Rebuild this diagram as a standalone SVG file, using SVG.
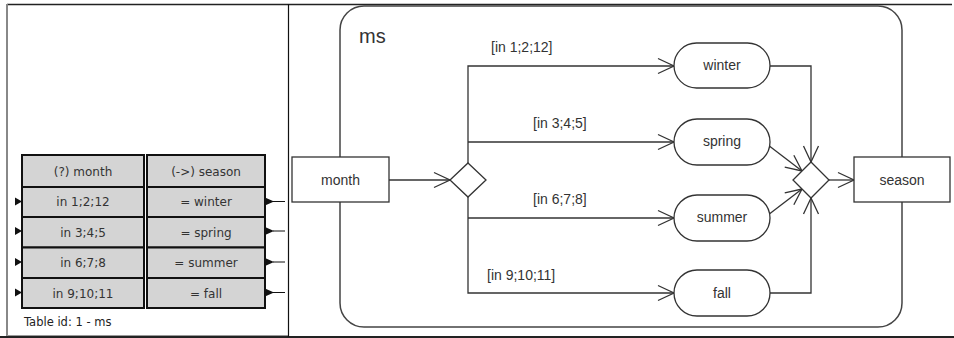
<svg xmlns="http://www.w3.org/2000/svg" width="954" height="338" viewBox="0 0 954 338">
<style>
.cell{fill:#d4d4d4;stroke:#111;stroke-width:2}
.tt{font-family:"DejaVu Sans",sans-serif;font-size:12px;fill:#333;text-anchor:middle}
.tid{font-family:"DejaVu Sans",sans-serif;font-size:11.5px;fill:#222}
.box{fill:#fff;stroke:#333;stroke-width:1.3}
.lbl{font-family:"Liberation Sans",Arial,sans-serif;font-size:14px;fill:#333}
.ctr{text-anchor:middle}
.ln{fill:none;stroke:#333;stroke-width:1.3}
.arr{marker-end:url(#open)}
</style>
<defs>
<marker id="open" markerUnits="userSpaceOnUse" markerWidth="20" markerHeight="20" viewBox="-18 -10 20 20" refX="0" refY="0" orient="auto">
<path d="M-16,-7.5 L0,0 L-16,7.5" fill="none" stroke="#333" stroke-width="1.3"/>
</marker>
</defs>
<rect x="0" y="0" width="954" height="338" fill="#fff"/>
<g id="outer">
<line x1="7" y1="4.5" x2="952" y2="4.5" stroke="#222" stroke-width="1.5"/>
<line x1="7" y1="4" x2="7" y2="336" stroke="#888" stroke-width="2"/>
<line x1="7" y1="335.5" x2="288" y2="335.5" stroke="#999" stroke-width="1"/>
<line x1="0" y1="337" x2="954" y2="337" stroke="#222" stroke-width="2"/>
<line x1="288.5" y1="4" x2="288.5" y2="337" stroke="#111" stroke-width="1.2"/>
</g>
<g id="table">
<rect class="cell" x="22" y="155" width="122" height="32"/>
<rect class="cell" x="147" y="155" width="118" height="32"/>
<rect class="cell" x="22" y="187" width="122" height="30"/>
<rect class="cell" x="147" y="187" width="118" height="30"/>
<rect class="cell" x="22" y="217" width="122" height="30.5"/>
<rect class="cell" x="147" y="217" width="118" height="30.5"/>
<rect class="cell" x="22" y="247.5" width="122" height="30.5"/>
<rect class="cell" x="147" y="247.5" width="118" height="30.5"/>
<rect class="cell" x="22" y="278" width="122" height="30"/>
<rect class="cell" x="147" y="278" width="118" height="30"/>
<text class="tt" x="83" y="175.5">(?) month</text>
<text class="tt" x="206" y="175.5">(-&gt;) season</text>
<text class="tt" x="83" y="206">in 1;2;12</text>
<text class="tt" x="206" y="206">= winter</text>
<text class="tt" x="83" y="236.5">in 3;4;5</text>
<text class="tt" x="206" y="236.5">= spring</text>
<text class="tt" x="83" y="267">in 6;7;8</text>
<text class="tt" x="206" y="267">= summer</text>
<text class="tt" x="83" y="297.5">in 9;10;11</text>
<text class="tt" x="206" y="297.5">= fall</text>
<text class="tid" x="24" y="326">Table id: 1 - ms</text>
<g fill="#111">
<path d="M15,197.5 L22,201.5 L15,205.5 Z"/>
<path d="M15,227 L22,231 L15,235 Z"/>
<path d="M15,258 L22,262 L15,266 Z"/>
<path d="M15,288.5 L22,292.5 L15,296.5 Z"/>
<path d="M265,197.5 L274,201.5 L265,205.5 Z"/>
<path d="M265,227 L274,231 L265,235 Z"/>
<path d="M265,258 L274,262 L265,266 Z"/>
<path d="M265,288.5 L274,292.5 L265,296.5 Z"/>
</g>
<g stroke="#111" stroke-width="1">
<line x1="273" y1="201.5" x2="285" y2="201.5"/>
<line x1="273" y1="231" x2="285" y2="231"/>
<line x1="273" y1="262" x2="285" y2="262"/>
<line x1="273" y1="292.5" x2="285" y2="292.5"/>
</g>
</g>
<g id="ms">
<rect x="340" y="6" width="562" height="321" rx="24" ry="24" fill="none" stroke="#444" stroke-width="1.5"/>
<text class="lbl" x="359" y="43" style="font-size:20px">ms</text>
</g>
<g id="connectors">
<line class="ln arr" x1="389" y1="180" x2="450" y2="180"/>
<polyline class="ln arr" points="468,163 468,66 674,66"/>
<line class="ln arr" x1="468" y1="142" x2="674" y2="142"/>
<polyline class="ln arr" points="468,197 468,293 674,293"/>
<line class="ln arr" x1="468" y1="218" x2="674" y2="218"/>
<polyline class="ln arr" points="770,66 811,66 811,162"/>
<polyline class="ln arr" points="770,293 811,293 811,198"/>
<line class="ln arr" x1="768" y1="145" x2="802" y2="171"/>
<line class="ln arr" x1="768" y1="215" x2="802" y2="189"/>
<line class="ln arr" x1="829" y1="180" x2="854" y2="180"/>
<text class="lbl" x="491" y="52">[in 1;2;12]</text>
<text class="lbl" x="533" y="128">[in 3;4;5]</text>
<text class="lbl" x="533" y="204">[in 6;7;8]</text>
<text class="lbl" x="487" y="280">[in 9;10;11]</text>
</g>
<g id="month">
<rect class="box" x="292" y="157" width="97" height="45"/>
<text class="lbl ctr" x="340.5" y="185">month</text>
</g>
<g id="decision">
<path class="box" d="M468,163 L486,180 L468,197 L450,180 Z"/>
</g>
<g id="winter">
<rect class="box" x="674" y="43" width="96" height="45" rx="22.5"/>
<text class="lbl ctr" x="722" y="70">winter</text>
</g>
<g id="spring">
<rect class="box" x="674" y="119" width="96" height="46" rx="23"/>
<text class="lbl ctr" x="722" y="146">spring</text>
</g>
<g id="summer">
<rect class="box" x="674" y="195" width="96" height="46" rx="23"/>
<text class="lbl ctr" x="722" y="222">summer</text>
</g>
<g id="fall">
<rect class="box" x="674" y="270" width="96" height="46" rx="23"/>
<text class="lbl ctr" x="722" y="298">fall</text>
</g>
<g id="merge">
<path class="box" d="M811,162 L829,180 L811,198 L793,180 Z"/>
</g>
<g id="season">
<rect class="box" x="854" y="157" width="96" height="45"/>
<text class="lbl ctr" x="902" y="185">season</text>
</g>
</svg>
